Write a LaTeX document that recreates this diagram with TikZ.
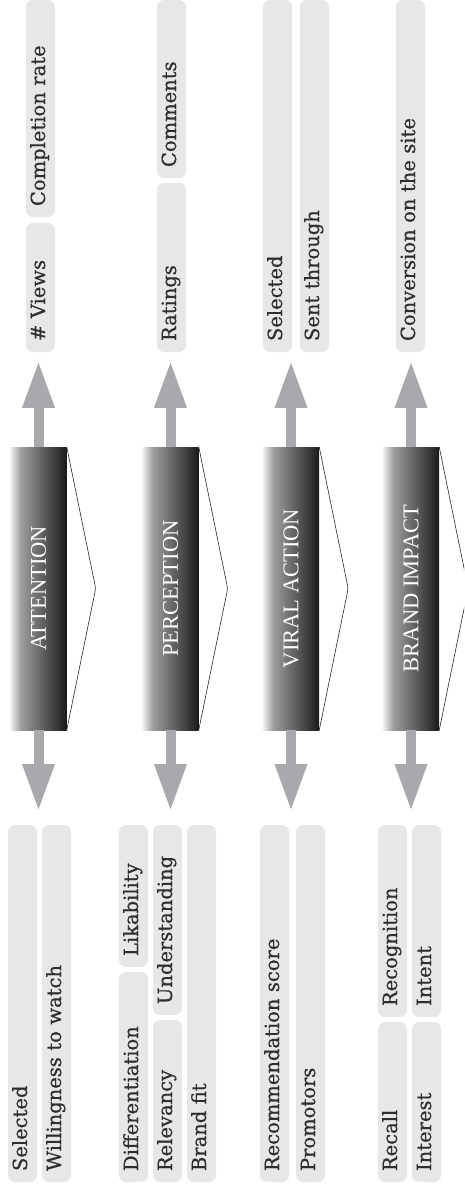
\documentclass[tikz,border=0pt]{standalone}
\usepackage{fontspec}
\usepackage{graphicx}
\newfontfamily\pillfont[FakeBold=0.7]{DejaVu Serif}
\newfontfamily\stagefont{Liberation Serif}
\usetikzlibrary{positioning,arrows.meta}
\definecolor{pillgray}{HTML}{E6E7E8}
\definecolor{arrowgray}{HTML}{A7A9AC}
\definecolor{textgray}{HTML}{2E2E30}
\pgfdeclarehorizontalshading{stageshade}{100bp}{color(0bp)=(white!94!black); color(25bp)=(white!94!black); color(34bp)=(black!38); color(50bp)=(black!58); color(66bp)=(black!78); color(75bp)=(black!90); color(100bp)=(black!90)}

\begin{document}
\begin{tikzpicture}[
    x=1pt, y=-1pt,
    pill/.style={rotate=90, fill=pillgray, text=textgray,
      rounded corners=7pt, minimum height=29pt, inner xsep=11pt,
      inner ysep=0pt, text height=.9em, text depth=0pt, align=left,
      text width=#1pt-22pt, font=\pillfont\fontsize{19.5}{19.5}\selectfont},
    stage/.style={shading=stageshade, minimum width=56pt,
      minimum height=283pt, inner sep=0pt, text=white,
      font=\stagefont\fontsize{22.5}{22.5}\selectfont},
    bigarrow/.style={draw=arrowgray, line width=10pt,
      -{Triangle[length=45pt,width=33pt,line width=0pt]}},
    stageedge/.style={draw=black!85, line width=.6pt, rounded corners=3pt}
]
  \useasboundingbox (0,0) rectangle (464,1190);
  \clip (0,0) rectangle (464,1190);

  \node[stage] (att) at (38.5,588.5) {\rotatebox{90}{ATTENTION}};
  \node[stage] (per) at (170.5,588.5) {\rotatebox{90}{PERCEPTION}};
  \node[stage] (vir) at (291,588.5) {\rotatebox{90}{VIRAL ACTION}};
  \node[stage] (bra) at (411,588.5) {\rotatebox{90}{BRAND IMPACT}};

  \node[pill=217] (views rate) at (40.5,108.5) {Completion rate};
  \node[pill=129] (views num) at (40.5,287.5) {\# Views};
  \node[pill=178] (per comments) at (171.5,89) {Comments};
  \node[pill=169] (per ratings) at (171.5,267.5) {Ratings};
  \node[pill=352] (vir selected) at (277.5,176) {Selected};
  \node[pill=352] (vir sent) at (314.5,176) {Sent through};
  \node[pill=352] (bra conv) at (410.5,176) {Conversion on the site};

  \node[pill=357] (att selected) at (22.5,1003.5) {Selected};
  \node[pill=357] (att willing) at (56.5,1003.5) {Willingness to watch};
  \node[pill=210] (per diff) at (133.5,1077) {Differentiation};
  \node[pill=142] (per like) at (133.5,896) {Likability};
  \node[pill=162] (per rel) at (167.5,1101) {Relevancy};
  \node[pill=190] (per under) at (167.5,920) {Understanding};
  \node[pill=357] (per fit) at (201.5,1003.5) {Brand fit};
  \node[pill=357] (vir score) at (274.5,1003.5) {Recommendation score};
  \node[pill=357] (vir prom) at (310.5,1003.5) {Promotors};
  \node[pill=160] (bra recall) at (392.5,1102) {Recall};
  \node[pill=192] (bra recog) at (392.5,921) {Recognition};
  \node[pill=160] (bra interest) at (426.5,1102) {Interest};
  \node[pill=192] (bra intent) at (426.5,921) {Intent};

  \foreach \s in {att,per,vir,bra} {
    \coordinate[above=84pt of \s.north] (\s up);
    \coordinate[below=79pt of \s.south] (\s down);
    \coordinate[right=29pt of \s.east] (\s tip);
    \draw[bigarrow] (\s.north) -- (\s up);
    \draw[bigarrow] (\s.south) -- (\s down);
    \draw[stageedge] (\s.north east) -- (\s tip) -- (\s.south east);
  }
\end{tikzpicture}
\end{document}
